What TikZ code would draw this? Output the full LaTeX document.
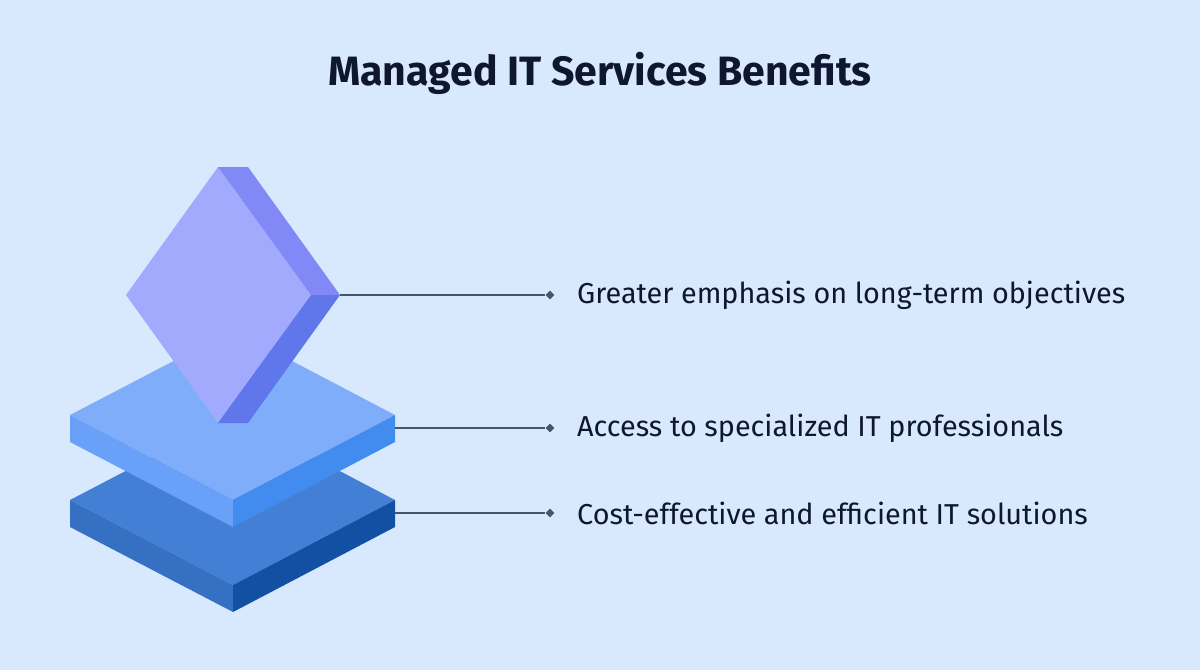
\documentclass[tikz,border=0pt]{standalone}
\usepackage{fontspec}
\setmainfont{Fira Sans}
\usetikzlibrary{shapes.geometric}
\usetikzlibrary{positioning}
\definecolor{bgblue}{HTML}{D9E9FD}
\definecolor{gemfront}{HTML}{A2AAFD}
\definecolor{gemupper}{HTML}{8089F5}
\definecolor{gemlower}{HTML}{6077EB}
\definecolor{midtop}{HTML}{80ADF9}
\definecolor{midleft}{HTML}{6AA1F8}
\definecolor{midright}{HTML}{428BEF}
\definecolor{lowtop}{HTML}{437FD4}
\definecolor{lowleft}{HTML}{3570C2}
\definecolor{lowright}{HTML}{1150A3}
\definecolor{linkgray}{HTML}{46556F}
\definecolor{inkblue}{HTML}{0F1630}
\tikzset{link/.style = {draw=linkgray, line width=1.5}}
\tikzset{tipdot/.style = {fill=linkgray, diamond, inner sep = 0, minimum size = 9}}
\tikzset{benefit/.style = {anchor=west, inner sep=0, text=inkblue, font=\fontsize{28.8}{32}\selectfont}}

\begin{document}
\begin{tikzpicture}[x=1pt, y=-1pt]
      \fill [bgblue] (0, 0) rectangle (1200, 670);
      \node [text=inkblue, font=\fontsize{41}{46}\selectfont\bfseries] (title) at (600, 73) {Managed IT Services Benefits};
      \fill [lowtop] (70, 500) -- (233, 415) -- (395, 500) -- (233, 585) -- cycle;
      \fill [lowleft] (70, 500) -- (233, 585) -- (233, 612) -- (70, 527) -- cycle;
      \fill [lowright] (233, 585) -- (395, 500) -- (395, 527) -- (233, 612) -- cycle;
      \fill [midtop] (70, 415) -- (233, 330) -- (395, 415) -- (233, 500) -- cycle;
      \fill [midleft] (70, 415) -- (233, 500) -- (233, 527) -- (70, 442) -- cycle;
      \fill [midright] (233, 500) -- (395, 415) -- (395, 442) -- (233, 527) -- cycle;
      \fill [gemfront] (218, 167) -- (126, 295) -- (218, 423) -- (311, 295) -- cycle;
      \fill [gemupper] (218, 167) -- (248, 167) -- (340, 295) -- (311, 295) -- cycle;
      \fill [gemlower] (311, 295) -- (340, 295) -- (248, 423) -- (218, 423) -- cycle;
      \coordinate (gemtip) at (340, 295);
      \coordinate (midtip) at (395, 428);
      \coordinate (lowtip) at (395, 513);
      \node [tipdot] (gemdot) at (550, 295) {};
      \node [tipdot] (middot) at (550, 428) {};
      \node [tipdot] (lowdot) at (550, 513) {};
      \draw [link] (gemtip) -- (gemdot);
      \draw [link] (midtip) -- (middot);
      \draw [link] (lowtip) -- (lowdot);
      \node [benefit] (focus) at (577, 295) {Greater emphasis on long-term objectives};
      \node [benefit] (experts) at (577, 428) {Access to specialized IT professionals};
      \node [benefit] (savings) at (577, 513) {Cost-effective and efficient IT solutions};
    \end{tikzpicture}
\end{document}
